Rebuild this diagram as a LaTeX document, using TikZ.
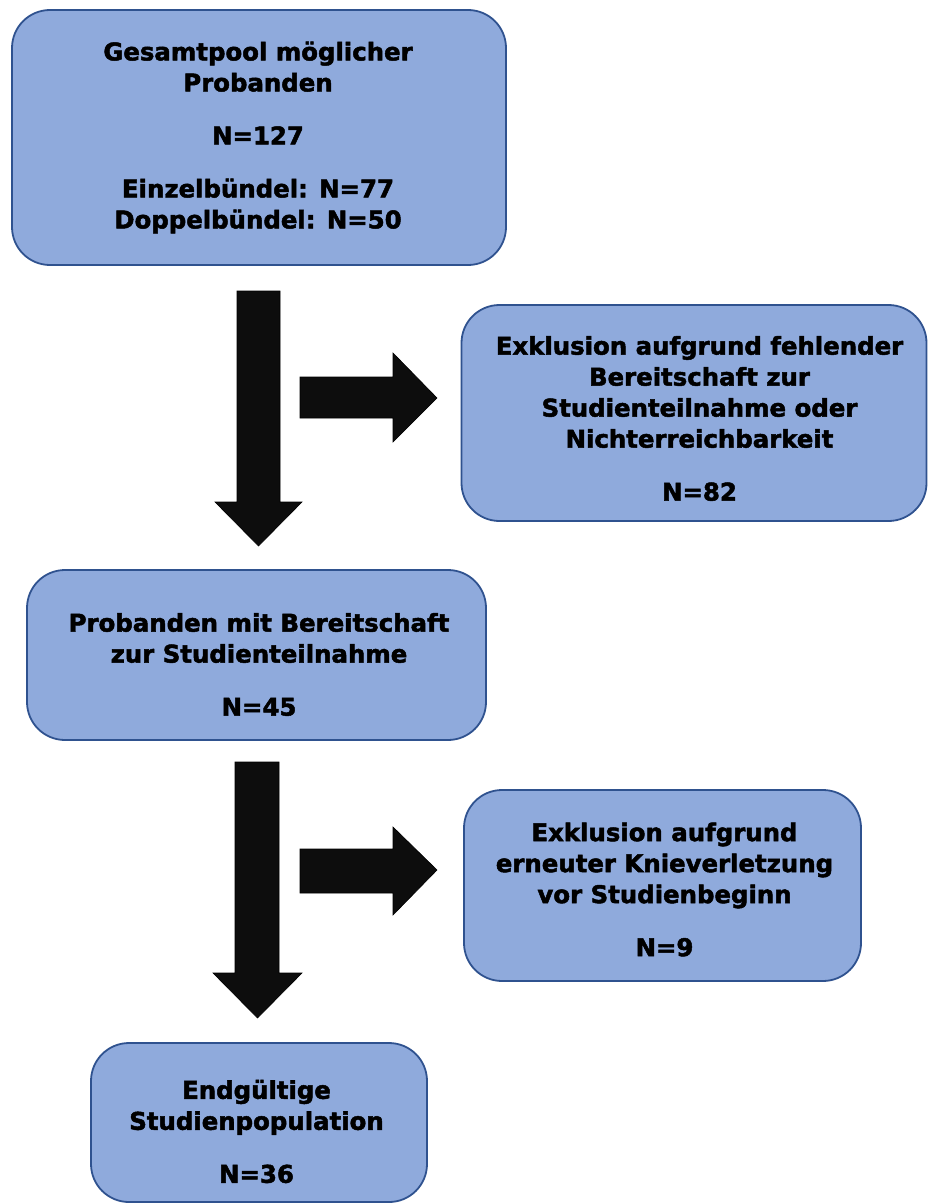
\documentclass[tikz,border=0pt]{standalone}
\usepackage{fontspec}
\setmainfont{DejaVu Sans}[BoldFeatures={FakeBold=2}]
\usetikzlibrary{positioning}
\definecolor{boxfill}{HTML}{8FAADC}
\definecolor{boxline}{HTML}{2F528F}
\definecolor{arrowfill}{HTML}{0D0D0D}
\tikzstyle{box} = [draw=boxline, fill=boxfill, line width=1.8pt, rounded corners=38pt]
\tikzstyle{boxtext} = [align=center, font=\bfseries\fontsize{24.4}{31}\selectfont]
\tikzstyle{blockarrow} = [draw=black, fill=arrowfill, line width=0.6pt]

\begin{document}
\begin{tikzpicture}[x=1pt,y=-1pt]
  \useasboundingbox (0,0) rectangle (927,1204);
  % boxes
  \node (pool) [box, minimum width=494pt, minimum height=255pt] at (259,137.5) {};
  \node (excl1) [box, minimum width=465pt, minimum height=216pt] at (694,413) {};
  \node (ready) [box, minimum width=459pt, minimum height=170pt] at (256.5,655) {};
  \node (excl2) [box, minimum width=397pt, minimum height=191pt] at (662.5,885.5) {};
  \node (final) [box, minimum width=336pt, minimum height=159pt] at (259,1122.5) {};

  % texts
  \node (pooltxt) [boxtext] at (258,137.5)
    {Gesamtpool möglicher\\Probanden\\[22pt]N=127\\[22pt]Einzelbündel: N=77\\Doppelbündel: N=50};
  \node (excl1txt) [boxtext] at (699.5,418.5)
    {Exklusion aufgrund fehlender\\Bereitschaft zur\\Studienteilnahme oder\\Nichterreichbarkeit\\[22pt]N=82};
  \node (readytxt) [boxtext] at (259,664.5)
    {Probanden mit Bereitschaft\\zur Studienteilnahme\\[22pt]N=45};
  \node (excl2txt) [boxtext] at (664.5,889.5)
    {Exklusion aufgrund\\erneuter Knieverletzung\\vor Studienbeginn\\[22pt]N=9};
  \node (finaltxt) [boxtext] at (256.5,1131.5)
    {Endgültige\\Studienpopulation\\[22pt]N=36};

  % block arrows
  \filldraw[blockarrow] (237,291) -- (280,291) -- (280,502) -- (302,502) -- (258.5,546) -- (215,502) -- (237,502) -- cycle;
  \filldraw[blockarrow] (300,377) -- (393,377) -- (393,353) -- (437,398) -- (393,442) -- (393,418) -- (300,418) -- cycle;
  \filldraw[blockarrow] (235,762) -- (279,762) -- (279,973) -- (302,973) -- (257.5,1018) -- (213,973) -- (235,973) -- cycle;
  \filldraw[blockarrow] (300,849) -- (393,849) -- (393,827) -- (437,870) -- (393,915) -- (393,893) -- (300,893) -- cycle;
\end{tikzpicture}
\end{document}
